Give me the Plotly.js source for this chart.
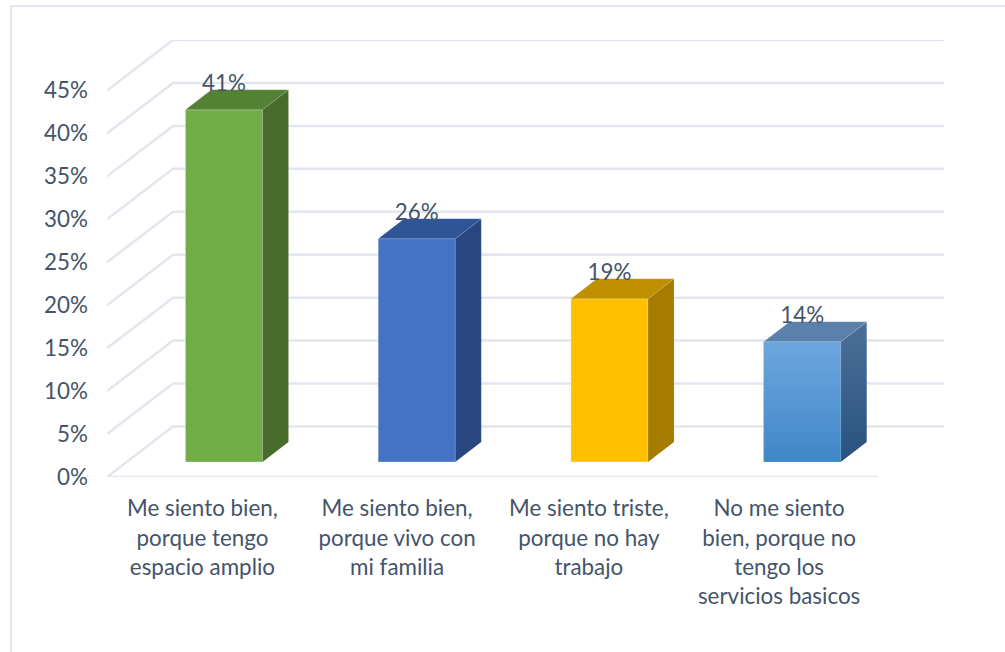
<!DOCTYPE html>
<html><head><meta charset="utf-8">
<script src="https://cdn.plot.ly/plotly-3.0.1.min.js"></script>
<style>
html,body{margin:0;padding:0;background:#fff;overflow:hidden}
#frame{position:absolute;left:10px;top:5px;width:995px;height:647px;border-left:2px solid #E2E6F0;border-top:2px solid #E2E6F0;box-sizing:border-box}
#chart{position:absolute;left:0;top:0;width:1005px;height:652px}
</style></head><body>
<div id="frame"></div><div id="chart"></div>
<script>
const categories = ["Me siento bien,<br>porque tengo<br>espacio amplio","Me siento bien,<br>porque vivo con<br>mi familia","Me siento triste,<br>porque no hay<br>trabajo","No me siento<br>bien, porque no<br>tengo los<br>servicios basicos"];
const values = [41,26,19,14];
const labels = ["41%","26%","19%","14%"];
const labelPositions = [-0.005,1.005,2,2.987];
const frontColors = ["#70AD47","#4472C4","#FFC000","#5597D8"];
const sideColors = ["#486C2B","#2A4680","#A67C00","#38658F"];
const topColors = ["#548235","#2F5597","#BF9000","#5A80AB"];
const gridVals = [0,5,10,15,20,25,30,35,40,45];

// Oblique projection, in axis units
const wallDx = 66/192.75, wallDy = 50.5/8.59;
const barShiftX = 20.6/192.75, barBase = 15/8.59, barWidth = 0.4;
const depthX = 26/192.75, depthY = 20/8.59;
const labelGap = 24/8.59;

const GRID = "#E3E6EE", TEXT = "#44546A", FONT = "Lato", SIZE = 22.4;
const xs = categories.map((_,i)=>i);
const centers = xs.map(x=>x+barShiftX);

const shapes = gridVals.map(v=>{
  const x0=-0.5, x1=-0.5+wallDx, x2=3.5+wallDx, y1=v+wallDy;
  return {type:"path",layer:"below",xref:"x",yref:"y",
    path:`M ${x0},${v} L ${x1},${y1} L ${x2},${y1}`,line:{color:GRID,width:2.5}};
});
shapes.push({type:"line",layer:"below",xref:"x",yref:"y",x0:-0.5,x1:3.5,y0:0,y1:0,line:{color:GRID,width:2.5}});

const barEdge = {color:"rgba(255,255,255,0.28)",width:1};
const faceEdge = {color:"rgba(255,255,255,0.1)",width:1};
const traces = [{
  type:"bar",x:centers,y:values,base:values.map(()=>barBase),width:barWidth,
  marker:{color:frontColors,line:barEdge},hoverinfo:"skip"
}];
function face(xv,yv,color,grad){
  const t={type:"scatter",mode:"lines",x:xv,y:yv,fill:"toself",fillcolor:color,line:faceEdge,hoverinfo:"skip"};
  if(grad) t.fillgradient={type:"vertical",colorscale:[[0,grad[0]],[1,grad[1]]]};
  return t;
}
values.forEach((v,i)=>{
  const l=centers[i]-barWidth/2, r=centers[i]+barWidth/2, b=barBase, t=barBase+v;
  traces.push(face([r,r+depthX,r+depthX,r,r],[b,b+depthY,t+depthY,t,b],sideColors[i],
    i===3?["#27527F","#4C7098"]:null));
  traces.push(face([l,r,r+depthX,l+depthX,l],[t,t,t+depthY,t+depthY,t],topColors[i]));
  if(i===3) traces.push(face([l,r,r,l,l],[b,b,t,t,b],frontColors[i],["#3F87C8","#6EA6DF"]));
});
traces.push({type:"scatter",mode:"text",x:centers,y:values.map(v=>v+barBase+labelGap),text:labels,
  textposition:"middle center",textfont:{family:FONT,size:SIZE,color:TEXT},hoverinfo:"skip"});

Plotly.newPlot("chart",traces,{
  width:1005,height:652,showlegend:false,
  paper_bgcolor:"rgba(0,0,0,0)",plot_bgcolor:"rgba(0,0,0,0)",
  margin:{l:107,r:61,t:40,b:175,pad:0},
  font:{family:FONT,size:SIZE,color:TEXT},
  xaxis:{range:[-0.5,3.5+wallDx],tickvals:labelPositions,ticktext:categories,showgrid:false,zeroline:false,showline:false,
    ticks:"",ticklabelstandoff:16,tickangle:0,fixedrange:true,tickfont:{family:FONT,size:SIZE,color:TEXT}},
  yaxis:{range:[0,45+wallDy],tickvals:gridVals,ticktext:gridVals.map(v=>v+"%"),showgrid:false,zeroline:false,showline:false,
    ticks:"",ticklabelstandoff:18,fixedrange:true,tickfont:{family:FONT,size:SIZE,color:TEXT}},
  shapes:shapes
},{displayModeBar:false,staticPlot:true});
</script></body></html>
